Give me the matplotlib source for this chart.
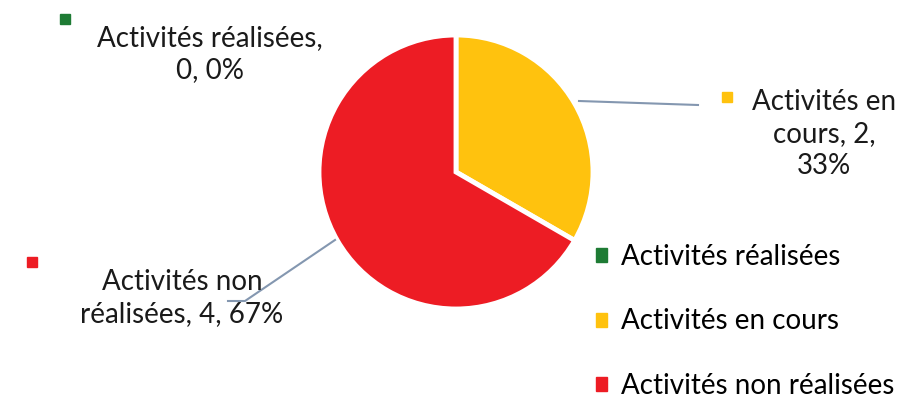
import matplotlib.pyplot as plt
from matplotlib.patches import Patch

plt.rcParams.update({"font.family": ["Lato", "DejaVu Sans"]})

categories = ["Activités réalisées", "Activités en cours", "Activités non réalisées"]
values = [0, 2, 4]
percents = ["0%", "33%", "67%"]
colors = ["#1E7B34", "#FFC20E", "#ED1C24"]

W, H = 899, 398
fig = plt.figure(figsize=(W / 100, H / 100), dpi=100)
ax = fig.add_axes([0, 0, 1, 1])

def Y(y):
    return H - y

cx, cy, r = 456, 172, 137
wedges, _ = ax.pie(values, colors=colors, startangle=90, counterclock=False,
                   center=(cx, Y(cy)), radius=r, frame=True,
                   wedgeprops=dict(edgecolor="white", linewidth=3.5))
ax.set_xlim(0, W)
ax.set_ylim(0, H)
ax.set_aspect("equal")
ax.axis("off")

fs = 20
lead = "#8497B0"
txt = "#1a1a1a"

# data labels
ax.text(210, Y(54), f"{categories[0]},\n{values[0]}, {percents[0]}", ha="center", va="center",
        fontsize=fs, linespacing=1.3, color=txt)
ax.plot([65], [Y(19)], marker="s", ms=7, color=colors[0], ls="none")

ax.text(824, Y(134), f"Activités en\ncours, {values[1]},\n{percents[1]}", ha="center", va="center",
        fontsize=fs, linespacing=1.3, color=txt)
ax.plot([727], [Y(97)], marker="s", ms=7, color=colors[1], ls="none")
ax.plot([579, 698], [Y(101), Y(105)], color=lead, lw=1.5)

ax.text(182, Y(298), f"Activités non\nréalisées, {values[2]}, {percents[2]}", ha="center", va="center",
        fontsize=fs, linespacing=1.3, color=txt)
ax.plot([32], [Y(262)], marker="s", ms=7, color=colors[2], ls="none")
ax.plot([335, 245, 228], [Y(240), Y(301), Y(301)], color=lead, lw=1.5)

# legend
handles = [Patch(facecolor=c, edgecolor=c) for c in colors]
ax.legend(handles, categories, loc="upper left", bbox_to_anchor=(585 / W, 1 - 233 / H),
          frameon=False, fontsize=fs, handlelength=0.4, handleheight=0.4,
          handletextpad=0.5, labelspacing=1.38, borderaxespad=0)

fig.savefig("out.png", dpi=100, facecolor="white")
